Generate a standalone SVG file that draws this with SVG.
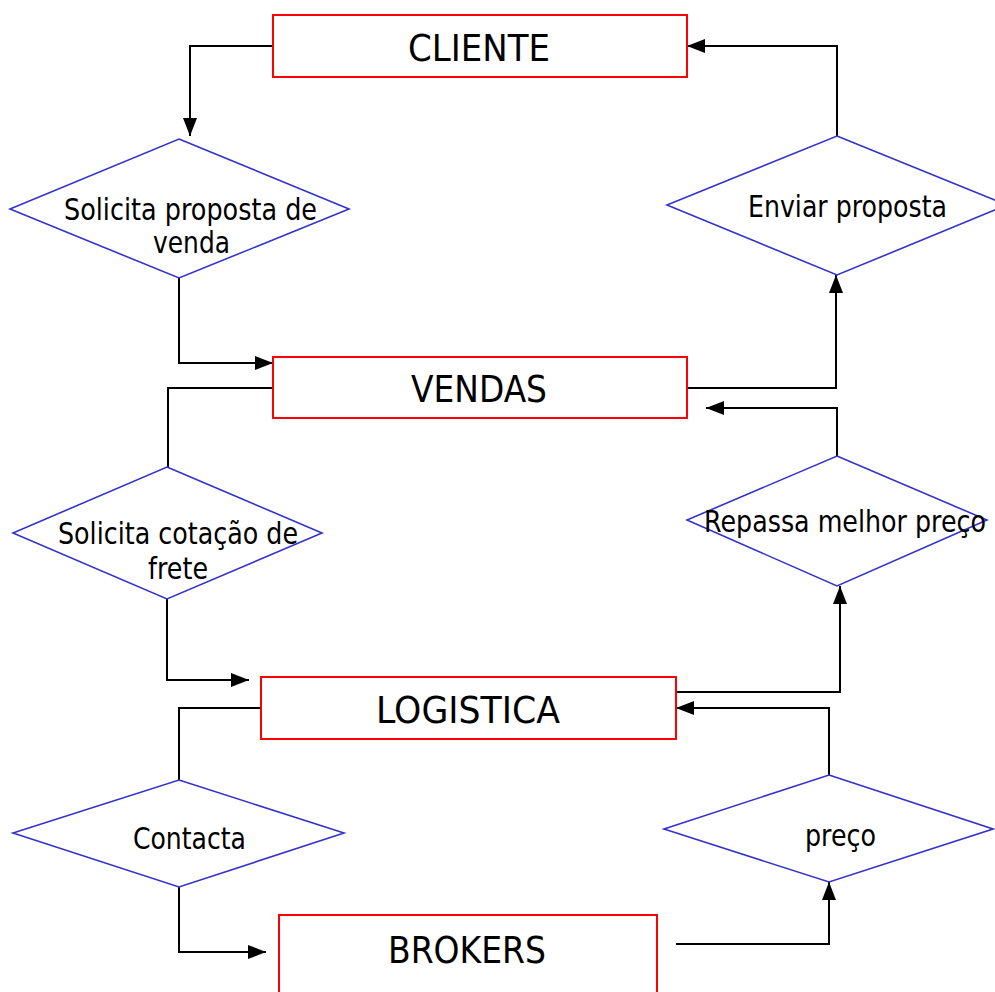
<svg xmlns="http://www.w3.org/2000/svg" width="995" height="992" viewBox="0 0 995 992">
<style>
.box{fill:#fff;stroke:#ff0000;stroke-width:2}
.dia{fill:#fff;stroke:#3333cc;stroke-width:1.6}
.con{fill:none;stroke:#000;stroke-width:2}
.bt{font-family:"DejaVu Sans","Liberation Sans",sans-serif;font-size:38px;fill:#000;text-anchor:middle}
.dt{font-family:"DejaVu Sans","Liberation Sans",sans-serif;font-size:30px;fill:#000;text-anchor:middle}
</style>
<defs>
<marker id="ah" markerUnits="userSpaceOnUse" markerWidth="20" markerHeight="16" refX="18" refY="7" orient="auto">
<path d="M0,0 L18,7 L0,14 Z" fill="#000"/>
</marker>
</defs>
<rect width="995" height="992" fill="#fff"/>
<g id="connectors">
<path class="con" d="M273,46 H190 V136" marker-end="url(#ah)"/>
<path class="con" d="M837,136 V46 H687" marker-end="url(#ah)"/>
<path class="con" d="M179,278 V363 H273" marker-end="url(#ah)"/>
<path class="con" d="M687,388 H836 V275" marker-end="url(#ah)"/>
<path class="con" d="M837,456 V408 H706" marker-end="url(#ah)"/>
<path class="con" d="M273,388 H168 V467"/>
<path class="con" d="M167,599 V680 H249" marker-end="url(#ah)"/>
<path class="con" d="M676,692 H840 V586" marker-end="url(#ah)"/>
<path class="con" d="M829,775 V708 H676" marker-end="url(#ah)"/>
<path class="con" d="M261,708 H179 V780"/>
<path class="con" d="M179,887 V952 H266" marker-end="url(#ah)"/>
<path class="con" d="M676,944 H829 V882" marker-end="url(#ah)"/>
</g>
<g id="cliente">
<rect class="box" x="273" y="15" width="414" height="62"/>
<text class="bt" x="479" y="61" textLength="142" lengthAdjust="spacingAndGlyphs">CLIENTE</text>
</g>
<g id="solicita-proposta">
<polygon class="dia" points="179,139 349,209 179,278 10,209"/>
<text class="dt" x="190.5" y="220" textLength="253" lengthAdjust="spacingAndGlyphs">Solicita proposta de</text>
<text class="dt" x="191.5" y="253" textLength="77" lengthAdjust="spacingAndGlyphs">venda</text>
</g>
<g id="enviar-proposta">
<polygon class="dia" points="837,136 1007,205 837,275 667,205"/>
<text class="dt" x="847.5" y="217" textLength="199" lengthAdjust="spacingAndGlyphs">Enviar proposta</text>
</g>
<g id="vendas">
<rect class="box" x="273" y="357" width="414" height="61"/>
<text class="bt" x="479" y="402" textLength="136" lengthAdjust="spacingAndGlyphs">VENDAS</text>
</g>
<g id="solicita-cotacao">
<polygon class="dia" points="167,467 322,533 167,599 13,533"/>
<text class="dt" x="178" y="544" textLength="240" lengthAdjust="spacingAndGlyphs">Solicita cotação de</text>
<text class="dt" x="178" y="579" textLength="60" lengthAdjust="spacingAndGlyphs">frete</text>
</g>
<g id="repassa">
<polygon class="dia" points="837,456 987,520 837,586 687,520"/>
<text class="dt" x="845" y="532" textLength="282" lengthAdjust="spacingAndGlyphs">Repassa melhor preço</text>
</g>
<g id="logistica">
<rect class="box" x="261" y="677" width="415" height="62"/>
<text class="bt" x="468" y="723" textLength="184" lengthAdjust="spacingAndGlyphs">LOGISTICA</text>
</g>
<g id="contacta">
<polygon class="dia" points="179,780 344,833 179,887 13,833"/>
<text class="dt" x="189.5" y="849" textLength="113" lengthAdjust="spacingAndGlyphs">Contacta</text>
</g>
<g id="preco">
<polygon class="dia" points="829,775 993,829 829,882 664,829"/>
<text class="dt" x="840.5" y="846" textLength="71" lengthAdjust="spacingAndGlyphs">preço</text>
</g>
<g id="brokers">
<rect class="box" x="279" y="915" width="378" height="90"/>
<text class="bt" x="467" y="963" textLength="158" lengthAdjust="spacingAndGlyphs">BROKERS</text>
</g>
</svg>
